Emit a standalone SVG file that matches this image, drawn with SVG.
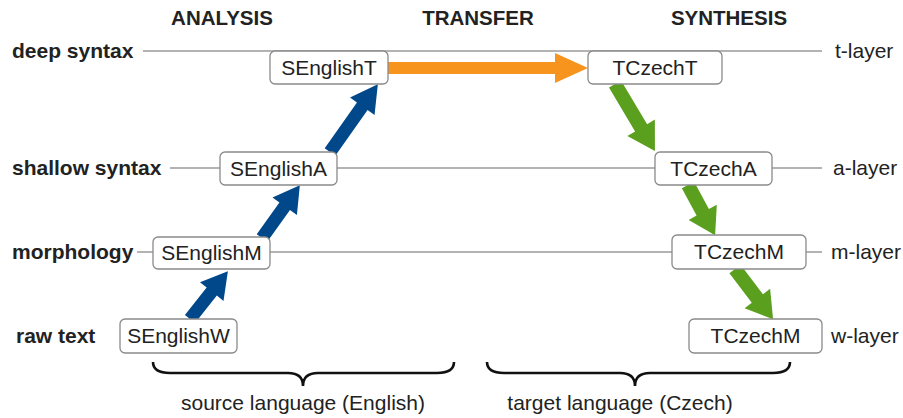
<svg xmlns="http://www.w3.org/2000/svg" width="903" height="418" viewBox="0 0 903 418">
<style>
text{font-family:"Liberation Sans",Arial,sans-serif;fill:#222;font-size:21px}
.b{font-weight:bold}
.hd{font-weight:bold;text-anchor:middle;font-size:20.5px}
.ln{stroke:#9a9a9a;stroke-width:1.5;fill:none}
.nd rect{fill:#fff;stroke:#8a8a8a;stroke-width:1.3}
.nd text{text-anchor:middle}
.blue{fill:#00488a}
.green{fill:#5b9f1f}
.orange{fill:#f7941d}
.brace{fill:none;stroke:#111;stroke-width:2.6}
</style>
<g id="headers">
<text class="hd" x="222" y="25">ANALYSIS</text>
<text class="hd" x="478" y="25">TRANSFER</text>
<text class="hd" x="729" y="25">SYNTHESIS</text>
</g>
<g id="layers">
<line class="ln" x1="143" y1="51" x2="822" y2="51"/>
<line class="ln" x1="170" y1="168" x2="822" y2="168"/>
<line class="ln" x1="137" y1="252" x2="822" y2="252"/>
<text class="b" x="12" y="58">deep syntax</text>
<text class="b" x="12" y="175">shallow syntax</text>
<text class="b" x="12" y="259">morphology</text>
<text class="b" x="16" y="343">raw text</text>
<text x="835" y="58">t-layer</text>
<text x="833" y="175">a-layer</text>
<text x="831" y="259">m-layer</text>
<text x="831" y="343">w-layer</text>
</g>
<g id="connectors">
<polygon class="orange" points="388,62 555,62 555,53 588,68 555,83 555,74 388,74"/>
<polygon class="blue" transform="translate(190,319) rotate(-51.6)" points="0,-6.5 35,-6.5 35,-15 61,0 35,15 35,6.5 0,6.5"/>
<polygon class="blue" transform="translate(262,238) rotate(-54.4)" points="0,-6.5 39,-6.5 39,-15 65,0 39,15 39,6.5 0,6.5"/>
<polygon class="blue" transform="translate(330,152) rotate(-54.8)" points="0,-6.5 56,-6.5 56,-15 83,0 56,15 56,6.5 0,6.5"/>
<polygon class="green" transform="translate(615,84) rotate(59.2)" points="0,-7 51,-7 51,-16 78,0 51,16 51,7 0,7"/>
<polygon class="green" transform="translate(688,185) rotate(61.6)" points="0,-7 31,-7 31,-16 57,0 31,16 31,7 0,7"/>
<polygon class="green" transform="translate(735,269) rotate(52.8)" points="0,-7 37,-7 37,-16 63,0 37,16 37,7 0,7"/>
</g>
<g id="SEnglishT" class="nd"><rect x="270" y="51" width="118" height="33" rx="5"/><text x="329" y="75">SEnglishT</text></g>
<g id="SEnglishA" class="nd"><rect x="220" y="152" width="117" height="33" rx="5"/><text x="278.5" y="176">SEnglishA</text></g>
<g id="SEnglishM" class="nd"><rect x="153" y="237" width="117" height="32" rx="5"/><text x="211.5" y="260">SEnglishM</text></g>
<g id="SEnglishW" class="nd"><rect x="120" y="319" width="117" height="34" rx="5"/><text x="178.5" y="343">SEnglishW</text></g>
<g id="TCzechT" class="nd"><rect x="588" y="51" width="134" height="33" rx="5"/><text x="655" y="75">TCzechT</text></g>
<g id="TCzechA" class="nd"><rect x="655" y="152" width="117" height="33" rx="5"/><text x="713.5" y="176">TCzechA</text></g>
<g id="TCzechM" class="nd"><rect x="672" y="235" width="134" height="34" rx="5"/><text x="739" y="259">TCzechM</text></g>
<g id="TCzechW" class="nd"><rect x="689" y="319" width="133" height="34" rx="5"/><text x="755.5" y="343">TCzechM</text></g>
<g id="braces">
<path class="brace" d="M153,362 Q153,373 170,373 L288,373 Q303,373 303,386 Q303,373 318,373 L437,373 Q454,373 454,362"/>
<path class="brace" d="M487,362 Q487,373 504,373 L620,373 Q635,373 635,386 Q635,373 650,373 L773,373 Q790,373 790,362"/>
<text x="303" y="410" text-anchor="middle">source language (English)</text>
<text x="620" y="410" text-anchor="middle">target language (Czech)</text>
</g>
</svg>
